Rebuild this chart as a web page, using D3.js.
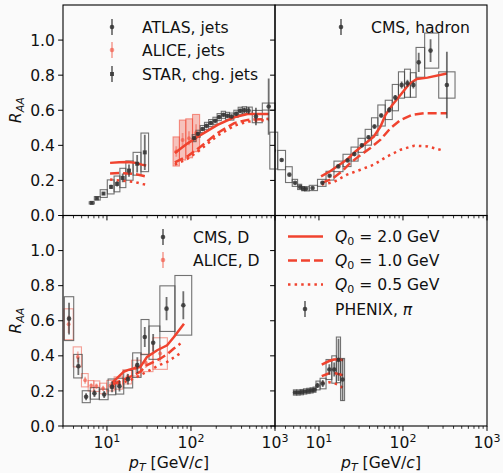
<!DOCTYPE html>
<html><head><meta charset="utf-8">
<script src="https://cdn.jsdelivr.net/npm/d3@7"></script>
<style>body{margin:0;background:#fafafa} text{font-family:"DejaVu Sans",sans-serif;fill:#111}</style>
</head><body><svg id="c" width="503" height="473"></svg>
<script>
// ---------------- DATA ----------------
// Top-left: jets
const atlasPt  = [109,121,137,153,172,194,216,244,272,304,345,385,431,485,593,841];
const atlasRaa = [0.441,0.466,0.493,0.511,0.527,0.54,0.561,0.574,0.568,0.564,0.58,0.597,0.6,0.598,0.564,0.621];
const atlasErr = [0.01,0.01,0.01,0.01,0.01,0.01,0.01,0.01,0.01,0.01,0.012,0.012,0.015,0.02,0.05,0.16];
const atlasSys = [0.02,0.02,0.02,0.02,0.02,0.02,0.02,0.02,0.02,0.02,0.02,0.02,0.02,0.02,0.035,0.02];

const aliceJPt  = [66.8,79.5,94.7,115];
const aliceJRaa = [0.365,0.43,0.44,0.47];
const aliceJErr = [0.03,0.04,0.04,0.05];
const aliceJSys = [0.083,0.114,0.111,0.106];

const starPt  = [6.6,7.6,9.1,11.2,13.2,15.4,18.3,22.9,28.2];
const starRaa = [0.072,0.098,0.125,0.163,0.18,0.214,0.256,0.295,0.36];
const starErr = [0.005,0.006,0.008,0.012,0.015,0.025,0.035,0.05,0.1];
const starSys = [0.006,0.01,0.022,0.04,0.045,0.055,0.055,0.065,0.11];

const jetModelLowPt   = [10.9,14,18,22,26,29.3];
const jetQ2Low        = [0.30,0.303,0.305,0.30,0.29,0.285];
const jetQ1Low        = [0.24,0.242,0.24,0.235,0.228,0.222];
const jetQ05Low       = [0.205,0.2,0.195,0.19,0.18,0.175];
const jetModelHighPt  = [64.3,90.5,131,207,327,472,843];
const jetQ2High       = [0.356,0.41,0.46,0.517,0.56,0.578,0.578];
const jetQ1High       = [0.303,0.337,0.394,0.47,0.527,0.545,0.551];
const jetQ05High      = [0.29,0.322,0.378,0.455,0.512,0.535,0.545];

// Top-right: CMS hadron
const cmsHPt  = [2.9,3.6,4.45,5.2,5.97,6.5,7.0,8.4,11.0,13.4,17.0,22.0,26.4,32.4,38.9,45.8,55.1,68.7,81,96.4,113,133,154,213,333];
const cmsHRaa = [0.37,0.316,0.233,0.186,0.163,0.153,0.152,0.157,0.186,0.227,0.28,0.314,0.35,0.40,0.446,0.507,0.57,0.602,0.672,0.744,0.754,0.744,0.873,0.94,0.744];
const cmsHErr = [0.01,0.008,0.006,0.005,0.005,0.005,0.005,0.005,0.006,0.007,0.008,0.008,0.01,0.01,0.01,0.012,0.012,0.015,0.015,0.02,0.02,0.02,0.055,0.065,0.19];
const cmsHSys = [0.105,0.055,0.045,0.02,0.015,0.012,0.012,0.015,0.02,0.025,0.03,0.035,0.04,0.04,0.045,0.05,0.06,0.055,0.075,0.075,0.08,0.07,0.085,0.1,0.075];

const hModelPt  = [10.6,13.6,17.2,22,27.2,34.1,45,54,62,74.6,93.8,118,146,196,333];
const hQ2       = [0.223,0.252,0.286,0.322,0.365,0.403,0.45,0.507,0.574,0.63,0.688,0.748,0.778,0.786,0.81];
const hModelPt1 = [10.8,14.3,18.8,23.7,29.7,41,54,71,94,129,178,333];
const hQ1       = [0.186,0.208,0.252,0.3,0.337,0.385,0.432,0.498,0.545,0.574,0.583,0.583];
const hModelPt05= [10.8,15,21.6,31.2,45,65,94,136,196,296];
const hQ05      = [0.176,0.191,0.233,0.261,0.29,0.337,0.375,0.398,0.394,0.371];

// Bottom-left: D mesons
const cmsDPt  = [3.54,4.57,5.65,7.1,9.27,11.5,14.1,17.8,23,28.2,35.5,51.2,81.1];
const cmsDRaa = [0.612,0.341,0.167,0.186,0.18,0.223,0.227,0.267,0.347,0.507,0.475,0.669,0.688];
const cmsDErr = [0.09,0.05,0.02,0.02,0.02,0.03,0.03,0.03,0.045,0.057,0.05,0.066,0.08];
const cmsDSys = [0.125,0.067,0.034,0.033,0.03,0.045,0.045,0.05,0.07,0.1,0.095,0.13,0.17];

const aliceDPt  = [3.5,4.5,5.5,6.5,7.5,9,11,13.5,17.5,22,29,43];
const aliceDRaa = [0.58,0.394,0.261,0.229,0.227,0.214,0.23,0.245,0.28,0.33,0.36,0.413];
const aliceDErr = [0.05,0.03,0.02,0.015,0.015,0.015,0.02,0.02,0.02,0.025,0.03,0.05];
const aliceDSys = [0.088,0.057,0.038,0.03,0.03,0.03,0.03,0.035,0.04,0.045,0.05,0.09];

const dModelPt  = [11.5,13,15.8,18,20.8,25,30,39.6,52,62.7,82.6];
const dQ2       = [0.246,0.27,0.309,0.32,0.328,0.337,0.394,0.432,0.46,0.507,0.583];
const dModelPt1 = [11.5,15,20.8,25,30,43.4,52,62,75];
const dQ1       = [0.236,0.26,0.29,0.31,0.347,0.385,0.409,0.44,0.47];
const dModelPt05= [11.5,15,20.8,30,43.4,52,75];
const dQ05      = [0.225,0.245,0.27,0.31,0.35,0.365,0.415];

// Bottom-right: PHENIX pi0
const phxPt  = [5.2,5.7,6.25,6.85,7.5,8.2,8.85,9.6,11.1,13.3,15.2,17.1,19.1];
const phxRaa = [0.191,0.191,0.193,0.197,0.2,0.203,0.207,0.231,0.242,0.322,0.322,0.377,0.265];
const phxErr = [0.008,0.008,0.008,0.008,0.008,0.008,0.01,0.015,0.02,0.03,0.04,0.12,0.12];
const phxSys = [0.015,0.015,0.015,0.015,0.015,0.015,0.015,0.025,0.03,0.057,0.078,0.13,0.12];

const piModelPt = [10.8,13,15,17,19.5];
const piQ2      = [0.35,0.369,0.379,0.38,0.375];
const piQ1      = [0.284,0.299,0.303,0.296,0.289];
const piQ05     = [0.245,0.25,0.245,0.235,0.215];

const yTicks = [0,0.2,0.4,0.6,0.8,1.0];
const xMajor = [10,100,1000];
const xMinor = [3,4,5,6,7,8,9,20,30,40,50,60,70,80,90,200,300,400,500,600,700,800,900];
const legendQ = ["2.0","1.0","0.5"];

// ---------------- LAYOUT ----------------
const RED = "#f0432f";
const BLK = "#333333";
const FS = "15.6px", FSS = "11px";
const svg = d3.select("#c");
svg.append("rect").attr("width",503).attr("height",473).attr("fill","#fafafa");
const L = 63, PW = 212, T = 5, PH = 210.5;
const x = d3.scaleLog().domain([3,1000]).range([0,PW]);
const y = d3.scaleLinear().domain([0,1.2]).range([PH,0]);

function binEdges(pt){
  return pt.map((p,i)=>{
    const lo = i>0 ? Math.sqrt(pt[i-1]*p) : p/Math.sqrt(pt[1]/p);
    const hi = i<pt.length-1 ? Math.sqrt(pt[i+1]*p) : p*Math.sqrt(p/pt[i-1]);
    return [lo,hi];
  });
}

function makePanel(col,row,id){
  const g = svg.append("g").attr("transform",`translate(${L+col*PW},${T+row*PH})`);
  g.append("clipPath").attr("id","clip"+id).append("rect").attr("width",PW).attr("height",PH);
  return g;
}

function drawBoxes(g,pt,raa,sys,opt){
  const e = binEdges(pt);
  g.append("g").selectAll("rect").data(pt).join("rect")
    .attr("x",(d,i)=>x(e[i][0])).attr("width",(d,i)=>x(e[i][1])-x(e[i][0]))
    .attr("y",(d,i)=>y(raa[i]+sys[i])).attr("height",(d,i)=>y(raa[i]-sys[i])-y(raa[i]+sys[i]))
    .attr("fill",opt.fill||"none").attr("fill-opacity",opt.fillOp||0)
    .attr("stroke",opt.stroke).attr("stroke-opacity",opt.strokeOp).attr("stroke-width",1.1);
}
function drawPoints(g,id,pt,raa,err,opt){
  const c = g.append("g").attr("clip-path",`url(#clip${id})`);
  c.selectAll("line").data(pt).join("line")
    .attr("x1",d=>x(d)).attr("x2",d=>x(d))
    .attr("y1",(d,i)=>y(raa[i]+err[i])).attr("y2",(d,i)=>y(raa[i]-err[i]))
    .attr("stroke",opt.color).attr("stroke-opacity",opt.barOp).attr("stroke-width",1.8);
  if(opt.square){
    c.selectAll("rect").data(pt).join("rect")
      .attr("x",d=>x(d)-2).attr("y",(d,i)=>y(raa[i])-2).attr("width",4).attr("height",4)
      .attr("fill",opt.color).attr("fill-opacity",opt.markOp);
  } else {
    c.selectAll("circle").data(pt).join("circle")
      .attr("cx",d=>x(d)).attr("cy",(d,i)=>y(raa[i])).attr("r",opt.r||2.3)
      .attr("fill",opt.color).attr("fill-opacity",opt.markOp);
  }
}
const dashes = {solid:null, dashed:"9,4", dotted:"2.5,4.1"};
function drawModel(g,id,pt,v,style){
  g.append("path").attr("clip-path",`url(#clip${id})`)
    .attr("d",d3.line().x(d=>x(d[0])).y(d=>y(d[1]))(pt.map((p,i)=>[p,v[i]])))
    .attr("fill","none").attr("stroke",RED).attr("stroke-width",2.5)
    .attr("stroke-dasharray",dashes[style]);
}
function supText(sel, base, sup, xx, yy, anchor){
  const t = sel.append("text").attr("x",xx).attr("y",yy).attr("text-anchor",anchor).style("font-size",FS);
  t.append("tspan").text(base);
  t.append("tspan").attr("dy",-6).style("font-size",FSS).text(sup);
  return t;
}
function drawAxes(g,col,row){
  const ax = g.append("g").attr("transform",`translate(0,${PH})`);
  ax.selectAll(".mi").data(xMinor).join("line").attr("x1",d=>x(d)).attr("x2",d=>x(d))
    .attr("y1",0).attr("y2",2.8).attr("stroke","#000").attr("stroke-width",0.8);
  ax.selectAll(".ma").data(xMajor).join("line").attr("x1",d=>x(d)).attr("x2",d=>x(d))
    .attr("y1",0).attr("y2",4.9).attr("stroke","#000").attr("stroke-width",1);
  if(row===1){
    xMajor.forEach(v=>{
      const e = Math.round(Math.log10(v));
      supText(ax,"10",String(e),x(v),22,"middle");
    });
    const lab = g.append("text").attr("x",PW/2).attr("y",PH+42).attr("text-anchor","middle").style("font-size",FS);
    lab.append("tspan").style("font-style","italic").text("p");
    lab.append("tspan").attr("dy",3).style("font-size",FSS).style("font-style","italic").text("T");
    lab.append("tspan").attr("dy",-3).text(" [GeV/");
    lab.append("tspan").style("font-style","italic").text("c");
    lab.append("tspan").text("]");
  }
  const ay = g.append("g");
  ay.selectAll("line").data(yTicks).join("line").attr("x1",-4.9).attr("x2",0)
    .attr("y1",d=>y(d)).attr("y2",d=>y(d)).attr("stroke","#000").attr("stroke-width",1);
  if(col===0){
    ay.selectAll("text").data(yTicks).join("text").attr("x",-8).attr("y",d=>y(d)).attr("dy","0.36em")
      .attr("text-anchor","end").style("font-size",FS).text(d=>d.toFixed(1));
    const yl = g.append("text").attr("transform",`translate(-42,${PH/2}) rotate(-90)`)
      .attr("text-anchor","middle").style("font-size",FS);
    yl.append("tspan").style("font-style","italic").text("R");
    yl.append("tspan").attr("dy",3).style("font-size",FSS).style("font-style","italic").text("AA");
  }
  g.append("rect").attr("width",PW).attr("height",PH).attr("fill","none").attr("stroke","#000").attr("stroke-width",1.1);
}
function legendMarker(g,xx,yy,color,op,square){
  g.append("line").attr("x1",xx).attr("x2",xx).attr("y1",yy-8).attr("y2",yy+8)
    .attr("stroke",color).attr("stroke-opacity",op*0.8).attr("stroke-width",1.8);
  if(square) g.append("rect").attr("x",xx-2).attr("y",yy-2).attr("width",4).attr("height",4).attr("fill",color).attr("fill-opacity",op);
  else g.append("circle").attr("cx",xx).attr("cy",yy).attr("r",2.3).attr("fill",color).attr("fill-opacity",op);
}
function legendText(g,xx,yy,txt){
  return g.append("text").attr("x",xx).attr("y",yy).attr("dy","0.36em").style("font-size",FS).text(txt);
}

// ---------- Panel TL ----------
const gTL = makePanel(0,0,"tl");
drawBoxes(gTL,starPt,starRaa,starSys,{stroke:"#444",strokeOp:0.75});
drawBoxes(gTL,aliceJPt,aliceJRaa,aliceJSys,{stroke:RED,strokeOp:0.55,fill:RED,fillOp:0.3});
drawBoxes(gTL,atlasPt,atlasRaa,atlasSys,{stroke:"#444",strokeOp:0.75});
drawModel(gTL,"tl",jetModelLowPt,jetQ2Low,"solid");
drawModel(gTL,"tl",jetModelLowPt,jetQ1Low,"dashed");
drawModel(gTL,"tl",jetModelLowPt,jetQ05Low,"dotted");
drawModel(gTL,"tl",jetModelHighPt,jetQ2High,"solid");
drawModel(gTL,"tl",jetModelHighPt,jetQ1High,"dashed");
drawModel(gTL,"tl",jetModelHighPt,jetQ05High,"dotted");
drawPoints(gTL,"tl",starPt,starRaa,starErr,{color:BLK,barOp:0.7,markOp:0.85,square:true});
drawPoints(gTL,"tl",aliceJPt,aliceJRaa,aliceJErr,{color:RED,barOp:0.4,markOp:0.55,r:2});
drawPoints(gTL,"tl",atlasPt,atlasRaa,atlasErr,{color:BLK,barOp:0.7,markOp:0.85});
drawAxes(gTL,0,0);
legendMarker(svg,112,27,BLK,0.85,false); legendText(svg,142,27,"ATLAS, jets");
legendMarker(svg,112,50,RED,0.55,false); legendText(svg,142,50,"ALICE, jets");
legendMarker(svg,112,74,BLK,0.85,true);  legendText(svg,142,74,"STAR, chg. jets");

// ---------- Panel TR ----------
const gTR = makePanel(1,0,"tr");
drawBoxes(gTR,cmsHPt,cmsHRaa,cmsHSys,{stroke:"#444",strokeOp:0.75});
drawModel(gTR,"tr",hModelPt,hQ2,"solid");
drawModel(gTR,"tr",hModelPt1,hQ1,"dashed");
drawModel(gTR,"tr",hModelPt05,hQ05,"dotted");
drawPoints(gTR,"tr",cmsHPt,cmsHRaa,cmsHErr,{color:BLK,barOp:0.7,markOp:0.85});
drawAxes(gTR,1,0);
legendMarker(svg,341,27,BLK,0.85,false); legendText(svg,371,27,"CMS, hadron");

// ---------- Panel BL ----------
const gBL = makePanel(0,1,"bl");
drawBoxes(gBL,aliceDPt,aliceDRaa,aliceDSys,{stroke:RED,strokeOp:0.5});
drawBoxes(gBL,cmsDPt,cmsDRaa,cmsDSys,{stroke:"#444",strokeOp:0.75});
drawModel(gBL,"bl",dModelPt,dQ2,"solid");
drawModel(gBL,"bl",dModelPt1,dQ1,"dashed");
drawModel(gBL,"bl",dModelPt05,dQ05,"dotted");
drawPoints(gBL,"bl",aliceDPt,aliceDRaa,aliceDErr,{color:RED,barOp:0.4,markOp:0.55,r:2});
drawPoints(gBL,"bl",cmsDPt,cmsDRaa,cmsDErr,{color:BLK,barOp:0.7,markOp:0.85});
drawAxes(gBL,0,1);
legendMarker(svg,163,237,BLK,0.85,false); legendText(svg,193,237,"CMS, D");
legendMarker(svg,163,260,RED,0.55,false); legendText(svg,193,260,"ALICE, D");

// ---------- Panel BR ----------
const gBR = makePanel(1,1,"br");
drawBoxes(gBR,phxPt,phxRaa,phxSys,{stroke:"#444",strokeOp:0.75});
drawModel(gBR,"br",piModelPt,piQ2,"solid");
drawModel(gBR,"br",piModelPt,piQ1,"dashed");
drawModel(gBR,"br",piModelPt,piQ05,"dotted");
drawPoints(gBR,"br",phxPt,phxRaa,phxErr,{color:BLK,barOp:0.7,markOp:0.85});
drawAxes(gBR,1,1);
["solid","dashed","dotted"].forEach((st,i)=>{
  const yy = 236.5 + i*24;
  svg.append("line").attr("x1",288).attr("x2",323).attr("y1",yy).attr("y2",yy)
    .attr("stroke",RED).attr("stroke-width",2.5).attr("stroke-dasharray",dashes[st]);
  const t = svg.append("text").attr("x",335).attr("y",yy).attr("dy","0.36em").style("font-size",FS);
  t.append("tspan").style("font-style","italic").text("Q");
  t.append("tspan").attr("dy",3).style("font-size",FSS).text("0");
  t.append("tspan").attr("dy",-3).text(" = " + legendQ[i] + " GeV");
});
legendMarker(svg,305,309,BLK,0.85,false);
{
  const t = legendText(svg,335,309,"PHENIX, ");
  t.append("tspan").style("font-style","italic").text("π");
}
</script></body></html>
